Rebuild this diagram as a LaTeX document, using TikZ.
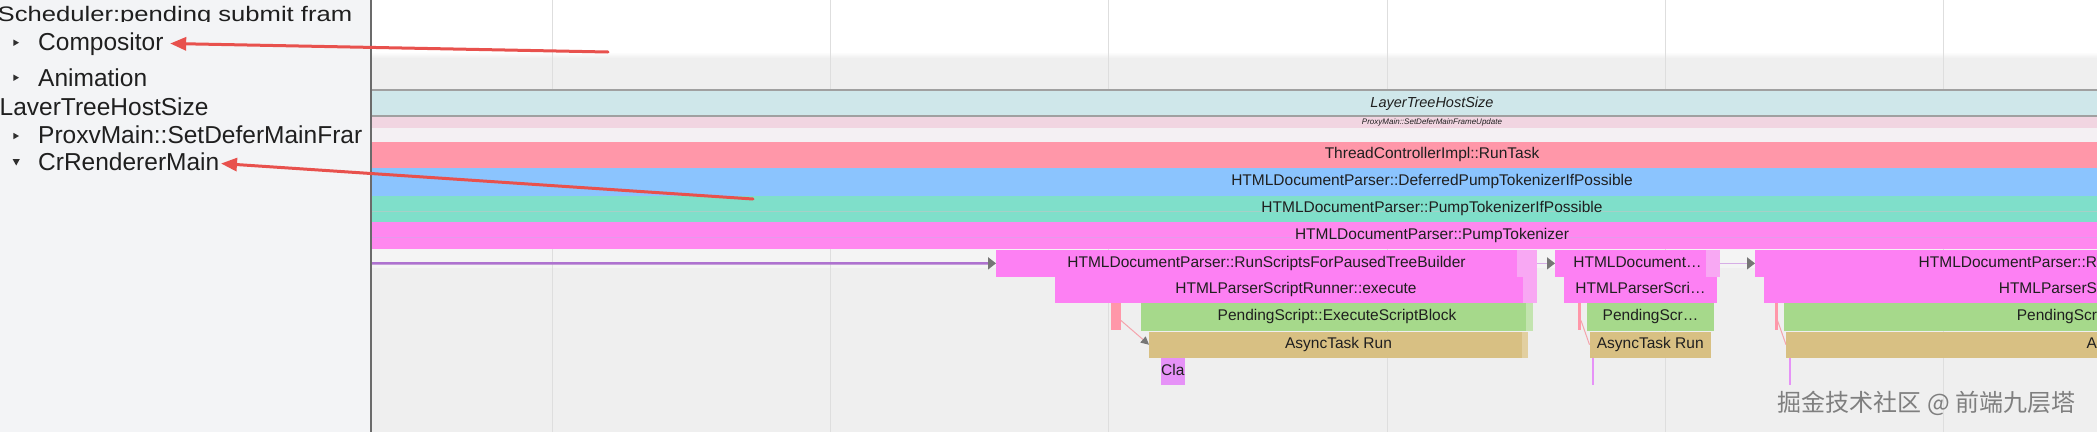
\documentclass[tikz,border=0pt]{standalone}
\usepackage{fontspec}
\setmainfont{Liberation Sans}
\newfontfamily\cjkfont{Noto Sans CJK SC}
\usetikzlibrary{arrows.meta}
\definecolor{leftbg}{HTML}{F3F4F6}
\definecolor{rightbg}{HTML}{EFEFEF}
\definecolor{stripc}{HTML}{F4F4F4}
\definecolor{gridc}{HTML}{DEDEDE}
\definecolor{sepc}{HTML}{A0A0A0}
\definecolor{borderc}{HTML}{6B6B6B}
\definecolor{lthsc}{HTML}{CFE7EA}
\definecolor{proxyc}{HTML}{F1D5E1}
\definecolor{gapc}{HTML}{F4F0F3}
\definecolor{tcrtc}{HTML}{FF97A9}
\definecolor{dptc}{HTML}{8BC4FE}
\definecolor{ptipc}{HTML}{7FDFCA}
\definecolor{ptipline}{HTML}{A6D0C7}
\definecolor{ptc}{HTML}{FF88EF}
\definecolor{ptline}{HTML}{E39BEB}
\definecolor{rsc}{HTML}{FD80F3}
\definecolor{rslc}{HTML}{F8A8F3}
\definecolor{psc}{HTML}{A6D98B}
\definecolor{pslc}{HTML}{C3E4AF}
\definecolor{atc}{HTML}{D8C083}
\definecolor{atlc}{HTML}{E2CFA0}
\definecolor{clac}{HTML}{E692F7}
\definecolor{redc}{HTML}{E8514D}
\definecolor{flowc}{HTML}{AE72CF}
\definecolor{flowlc}{HTML}{D6AEE6}
\definecolor{headc}{HTML}{767676}
\definecolor{pinkc}{HTML}{F5A3AC}
\definecolor{txtc}{HTML}{1F1F1F}
\definecolor{tric}{HTML}{2F2F2F}
\definecolor{wmc}{HTML}{7F7F7F}
\begin{document}
\begin{tikzpicture}[x=1pt,y=-1pt,
  bar/.style={anchor=north west, inner sep=0pt, outer sep=0pt, text=txtc,
    font=\fontsize{15.5}{16}\selectfont, text height=11.5pt, text depth=3.5pt},
  lefttext/.style={anchor=base west, inner xsep=1.5pt, inner ysep=0pt, text=txtc,
    text height=18pt, text depth=5pt, font=\fontsize{24.5}{26}\selectfont},
  redarrow/.style={draw=redc, line width=3pt, line cap=round,
    -{Triangle[length=16pt,width=13pt]}},
  flowarrow/.style={draw=flowc, line width=2.4pt,
    -{Triangle[length=8pt,width=12pt,color=headc]}},
  flowarrowlight/.style={draw=flowlc, line width=1.5pt,
    -{Triangle[length=8pt,width=12pt,color=headc]}},
  pinkflow/.style={draw=pinkc, line width=1pt},
  pinkflowhead/.style={draw=pinkc, line width=1pt,
    -{Triangle[length=8pt,width=8pt,color=headc]}},
  wm/.style={inner sep=0pt, text=wmc, font=\cjkfont\fontsize{24}{26}\selectfont}
]
\useasboundingbox (0,0) rectangle (2097,432);
\clip (0,0) rectangle (2097,432);

% backgrounds
\fill[leftbg] (0,0) rectangle (371,432);
\fill[white] (371,0) rectangle (2097,52);
\shade[top color=white, bottom color=rightbg] (371,52) rectangle (2097,58);
\fill[rightbg] (371,58) rectangle (2097,432);
\fill[stripc] (371,249) rectangle (2097,268);
\foreach \gx in {552,830,1108,1387,1665,1943}
  \draw[gridc, line width=1pt] (\gx,0) -- (\gx,432);

% full-width bars
\node[bar, fill=lthsc, minimum width=2122pt, minimum height=26pt,
  font=\itshape\fontsize{14.5}{15}\selectfont] (lths) at (371,90) {LayerTreeHostSize};
\node[bar, fill=proxyc, minimum width=2122pt, minimum height=11pt,
  text height=6pt, text depth=1.5pt,
  font=\itshape\fontsize{8}{8}\selectfont] (proxy) at (371,117) {ProxyMain::SetDeferMainFrameUpdate};
\node[bar, fill=gapc, minimum width=2122pt, minimum height=13.5pt] (gaprow) at (371,128) {};
\node[bar, fill=tcrtc, minimum width=2122pt, minimum height=26.5pt] (tcrt) at (371,141.5) {ThreadControllerImpl::RunTask};
\node[bar, fill=dptc, minimum width=2122pt, minimum height=27.5pt] (dpt) at (371,168) {HTMLDocumentParser::DeferredPumpTokenizerIfPossible};
\node[bar, fill=ptipc, minimum width=2122pt, minimum height=26.5pt,
  path picture={\draw[ptipline, line width=1pt]
    ([yshift=-15.5pt]path picture bounding box.north west) --
    ([yshift=-15.5pt]path picture bounding box.north east);}]
  (ptip) at (371,195.5) {HTMLDocumentParser::PumpTokenizerIfPossible};
\node[bar, fill=ptc, minimum width=2122pt, minimum height=27pt,
  path picture={\draw[ptline, line width=1pt]
    ([yshift=-15pt]path picture bounding box.north west) --
    ([yshift=-15pt]path picture bounding box.north east);}]
  (pt) at (371,222) {HTMLDocumentParser::PumpTokenizer};
\draw[sepc, line width=1.5pt] (lths.north west) -- (lths.north east);
\draw[sepc, line width=1.5pt] (lths.south west) -- (lths.south east);

% group 1
\node[bar, fill=rsc, minimum width=541pt, minimum height=26.7pt] (rs1) at (996,250) {HTMLDocumentParser::RunScriptsForPausedTreeBuilder};
\node[bar, fill=rslc, minimum width=20pt, minimum height=26.7pt] (rs1l) at (1517,250) {};
\node[bar, fill=rsc, minimum width=482pt, minimum height=26.3pt] (ex1) at (1055,276.7) {HTMLParserScriptRunner::execute};
\node[bar, fill=rslc, minimum width=14pt, minimum height=26.3pt] (ex1l) at (1523,276.7) {};
\node[bar, fill=tcrtc, minimum width=10pt, minimum height=27pt] (red1) at (1111,303) {};
\node[bar, fill=psc, minimum width=392pt, minimum height=27.7pt] (ps1) at (1141,303) {PendingScript::ExecuteScriptBlock};
\node[bar, fill=pslc, minimum width=7pt, minimum height=27.7pt] (ps1l) at (1526,303) {};
\node[bar, fill=atc, minimum width=379pt, minimum height=26pt] (at1) at (1149,331.7) {AsyncTask Run};
\node[bar, fill=atlc, minimum width=6pt, minimum height=26pt] (at1l) at (1522,331.7) {};
\node[bar, fill=clac, minimum width=24.5pt, minimum height=27.3pt] (cla) at (1160.5,357.7) {Cla};

% group 2
\node[bar, fill=rsc, minimum width=165pt, minimum height=26.7pt] (rs2) at (1555,250) {HTMLDocument…};
\node[bar, fill=rslc, minimum width=14pt, minimum height=26.7pt] (rs2l) at (1706,250) {};
\node[bar, fill=rsc, minimum width=153pt, minimum height=26.3pt] (ex2) at (1564,276.7) {HTMLParserScri…};
\node[bar, fill=tcrtc, minimum width=3pt, minimum height=27pt] (red2) at (1578,303) {};
\node[bar, fill=psc, minimum width=127pt, minimum height=27.7pt] (ps2) at (1587,303) {PendingScr…};
\node[bar, fill=atc, minimum width=121.5pt, minimum height=26pt] (at2) at (1589.5,331.7) {AsyncTask Run};
\node[bar, fill=clac, minimum width=2pt, minimum height=27.3pt] (vio2) at (1592,357.7) {};

% group 3 (cut at the right edge)
\node[bar, fill=rsc, minimum width=342pt, text width=342pt, align=right, minimum height=26.7pt] (rs3) at (1755,250) {HTMLDocumentParser::R};
\node[bar, fill=rsc, minimum width=333pt, text width=333pt, align=right, minimum height=26.3pt] (ex3) at (1764,276.7) {HTMLParserS};
\node[bar, fill=tcrtc, minimum width=2.5pt, minimum height=27pt] (red3) at (1775,303) {};
\node[bar, fill=psc, minimum width=313pt, text width=313pt, align=right, minimum height=27.7pt] (ps3) at (1784,303) {PendingScr};
\node[bar, fill=atc, minimum width=311pt, text width=311pt, align=right, minimum height=26pt] (at3) at (1786,331.7) {A};
\node[bar, fill=clac, minimum width=2pt, minimum height=27.3pt] (vio3) at (1789,357.7) {};

% flow connectors
\coordinate (fstart) at (371,263.35);
\draw[flowarrow] (fstart) -- (rs1.west);
\draw[flowarrowlight] (rs1l.east) -- (rs2.west);
\draw[flowarrowlight] (rs2l.east) -- (rs3.west);
\draw[pinkflowhead] ([yshift=-4pt]red1.east) -- (at1.west);
\draw[pinkflow] ([yshift=-4pt]red2.east) -- (at2.west);
\draw[pinkflow] ([yshift=-4pt]red3.east) -- (at3.west);

% left panel
\draw[borderc, line width=1.5pt] (371,0) -- (371,432);
\begin{scope}
  \clip (0,0) rectangle (362,432);
  \begin{scope}
    \clip (-5,0) rectangle (362,21.5);
    \node[lefttext, font=\fontsize{21}{22}\selectfont] (sched) at (-4,21)
      {\scalebox{1.22}[1]{Scheduler:pending submit fram}};
  \end{scope}
  \node[lefttext] (comp) at (36.5,50) {Compositor};
  \node[lefttext] (anim) at (36.5,86) {Animation};
  \node[lefttext] (lthsl) at (-2,115) {LaverTreeHostSize};
  \node[lefttext] (proxl) at (36.5,143) {ProxvMain::SetDeferMainFrar};
  \node[lefttext] (crm) at (36.5,170) {CrRendererMain};
\end{scope}
\fill[tric] (13.4,39.5) -- (19,42.7) -- (13.4,45.9) -- cycle;
\fill[tric] (13.4,74.5) -- (19,77.7) -- (13.4,80.9) -- cycle;
\fill[tric] (13.4,132.8) -- (19,136) -- (13.4,139.2) -- cycle;
\fill[tric] (12.6,159) -- (19.8,159) -- (16.2,165.5) -- cycle;

% annotation arrows
\coordinate (a1s) at (608,52);
\coordinate (a2s) at (753,199);
\draw[redarrow] (a1s) -- ([xshift=5pt]comp.east);
\draw[redarrow] (a2s) -- (crm.east);

% watermark
\node[wm] (wmark) at (1926.5,403) {掘金技术社区 @ 前端九层塔};
\end{tikzpicture}
\end{document}
